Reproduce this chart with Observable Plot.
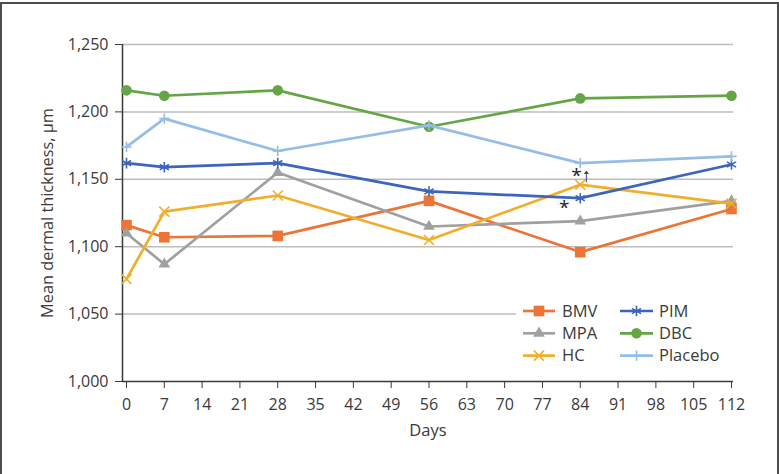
<!DOCTYPE html>
<html>
<head>
<meta charset="utf-8">
<script src="https://cdn.jsdelivr.net/npm/d3@7"></script>
<script src="https://cdn.jsdelivr.net/npm/@observablehq/plot@0.6"></script>
<style>
  html, body { margin: 0; padding: 0; background: #fff; }
  #wrap { position: relative; width: 779px; height: 474px; overflow: hidden; font-family: "Open Sans", sans-serif; }
  #frame { position: absolute; left: 0; top: 2px; width: 779px; height: 480px; box-sizing: border-box; border: 2px solid #4d4d4d; pointer-events: none; }
  #legend { position: absolute; left: 516px; top: 296px; }
</style>
</head>
<body>
<div id="wrap">
  <div id="chart"></div>
  <div id="legend"></div>
  <div id="frame"></div>
</div>
<script>
// ---- data ----
const days = [0, 7, 28, 56, 84, 112];
const seriesNames = ["BMV", "MPA", "HC", "PIM", "DBC", "Placebo"];
const BMV     = [1116, 1107, 1108, 1134, 1096, 1128];
const MPA     = [1110, 1087, 1155, 1115, 1119, 1134];
const HC      = [1076, 1126, 1138, 1105, 1146, 1132];
const PIM     = [1162, 1159, 1162, 1141, 1136, 1161];
const DBC     = [1216, 1212, 1216, 1189, 1210, 1212];
const Placebo = [1174, 1195, 1171, 1190, 1162, 1167];
const xTicks = [0, 7, 14, 21, 28, 35, 42, 49, 56, 63, 70, 77, 84, 91, 98, 105, 112];
const yTicks = [1000, 1050, 1100, 1150, 1200, 1250];
const xLabel = "Days";
const yLabel = "Mean dermal thickness, µm";
const annotationDays   = [84, 84];
const annotationValues = [1152.5, 1129];
const annotationLabels = ["*↑", "*"];

// ---- styles ----
const colors  = {BMV: "#EB7436", MPA: "#A0A0A0", HC: "#F0AE2A", PIM: "#3D64BE", DBC: "#64A646", Placebo: "#95BDE8"};
const symbols = {BMV: "square", MPA: "triangle", HC: "times", PIM: "asterisk", DBC: "circle", Placebo: "plus"};
const radii   = {BMV: 6, MPA: 4.3, HC: 4.6, PIM: 5.0, DBC: 5.3, Placebo: 3.4};
const filled  = {BMV: true, MPA: true, HC: false, PIM: false, DBC: true, Placebo: false};
const annotationDx = [1, -16];
const textColor = "#3a3a3a";
const font = "'Open Sans', sans-serif";

const values = {BMV, MPA, HC, PIM, DBC, Placebo};
const rows = seriesNames.flatMap(s => days.map((d, j) => ({series: s, day: d, value: values[s][j]})));
const annotations = annotationLabels.map((label, i) => ({day: annotationDays[i], value: annotationValues[i], label, i}));

const seriesMarks = seriesNames.flatMap(s => {
  const data = rows.filter(r => r.series === s);
  const dotOpts = {x: "day", y: "value", symbol: symbols[s], r: radii[s]};
  if (filled[s]) { dotOpts.fill = colors[s]; dotOpts.stroke = "none"; }
  else { dotOpts.stroke = colors[s]; dotOpts.fill = "none"; dotOpts.strokeWidth = 1.6; }
  return [
    Plot.line(data, {x: "day", y: "value", stroke: colors[s], strokeWidth: 2.7}),
    Plot.dot(data, dotOpts)
  ];
});

const annotationMarks = annotations.map(a =>
  Plot.text([a], {x: "day", y: "value", text: "label", fill: "#222", lineAnchor: "middle",
                  fontSize: 19, fontFamily: "'Open Sans', 'Liberation Sans', sans-serif", dx: annotationDx[a.i]})
);

const chart = Plot.plot({
  width: 779, height: 474,
  marginLeft: 122, marginRight: 46, marginTop: 44, marginBottom: 93,
  style: {fontFamily: font, color: textColor, background: "transparent"},
  x: {domain: [-0.74, 112.37]},
  y: {domain: [1000, 1250]},
  marks: [
    Plot.ruleY(yTicks.filter(v => v > 1000), {stroke: "#bdbdbd", strokeWidth: 1.5}),
    // tick marks through Plot axes (labels drawn separately for exact sizing)
    Plot.axisX(xTicks, {tickSize: 7, tickFormat: () => "", label: null, stroke: textColor}),
    Plot.axisY(yTicks, {tickSize: 7, tickFormat: () => "", label: null, stroke: textColor}),
    Plot.text(xTicks, {x: d => d, frameAnchor: "bottom", lineAnchor: "middle", dy: 23,
                       text: d => String(d), fontSize: 16, fill: textColor}),
    Plot.text(yTicks, {y: d => d, frameAnchor: "left", textAnchor: "end", lineAnchor: "middle", dx: -14,
                       text: d => d3.format(",")(d), fontSize: 16, fill: textColor}),
    Plot.ruleY([1000], {stroke: textColor, strokeWidth: 1.5}),
    Plot.ruleX([-0.74], {stroke: textColor, strokeWidth: 1.5}),
    Plot.text([xLabel], {frameAnchor: "bottom", lineAnchor: "middle", dy: 49, fontSize: 16.5, fill: textColor}),
    Plot.text([yLabel], {frameAnchor: "left", textAnchor: "middle", lineAnchor: "middle", rotate: -90, dx: -75,
                         fontSize: 16.3, fill: textColor}),
    ...seriesMarks,
    ...annotationMarks
  ]
});
document.getElementById("chart").appendChild(chart);

// ---- legend ----
const lg = d3.select("#legend").append("svg").attr("width", 222).attr("height", 76)
  .style("background", "#fff").style("display", "block");
const cols = [[7, 39, 46], [104, 137, 143]];
const rowsY = [15, 37.3, 59.6];
const order = [["BMV", 0, 0], ["PIM", 1, 0], ["MPA", 0, 1], ["DBC", 1, 1], ["HC", 0, 2], ["Placebo", 1, 2]];
const d3sym = {square: d3.symbolSquare, triangle: d3.symbolTriangle, times: d3.symbolTimes, asterisk: d3.symbolAsterisk, circle: d3.symbolCircle, plus: d3.symbolPlus};
for (const [s, c, r] of order) {
  const [x1, x2, tx] = cols[c];
  const y = rowsY[r];
  const g = lg.append("g");
  g.append("line").attr("x1", x1).attr("x2", x2).attr("y1", y).attr("y2", y)
    .attr("stroke", colors[s]).attr("stroke-width", 2.7);
  const path = d3.symbol(d3sym[symbols[s]], Math.PI * radii[s] * radii[s])();
  g.append("path").attr("d", path).attr("transform", `translate(${(x1 + x2) / 2},${y})`)
    .attr("fill", filled[s] ? colors[s] : "none")
    .attr("stroke", filled[s] ? "none" : colors[s]).attr("stroke-width", 1.6);
  g.append("text").attr("x", tx).attr("y", y).attr("dy", "0.35em")
    .attr("font-family", font).attr("font-size", 16.5).attr("fill", textColor).text(s);
}
</script>
</body>
</html>
